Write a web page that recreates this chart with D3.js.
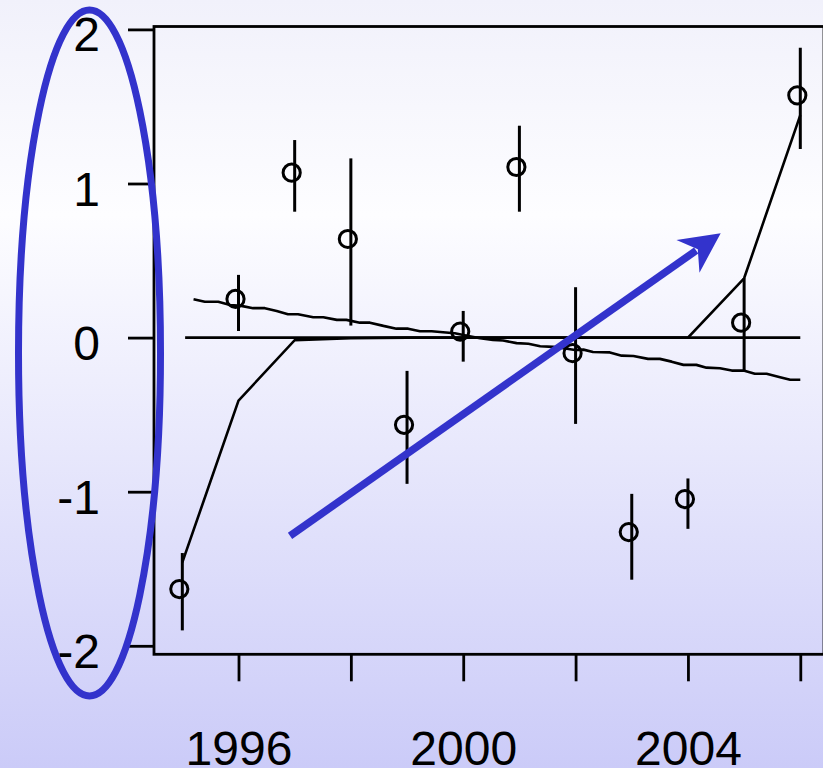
<!DOCTYPE html>
<html>
<head>
<meta charset="utf-8">
<script src="https://cdn.jsdelivr.net/npm/d3@7"></script>
<style>
  html, body { margin: 0; padding: 0; }
  svg { display: block; }
</style>
</head>
<body>
<svg id="chart" width="823" height="768"></svg>
<script>
// Yearly estimates with intervals, a shrunken fit and a slow trend line
const years     = [1995, 1996, 1997, 1998, 1999, 2000, 2001, 2002, 2003, 2004, 2005, 2006];
const estimate  = [-1.632, 0.251, 1.070, 0.640, -0.566, 0.039, 1.107, -0.101, -1.262, -1.048, 0.097, 1.572];
const upper     = [-1.398, 0.407, 1.282, 1.163, -0.216, 0.173, 1.375, 0.327, -1.014, -0.914, 0.385, 1.881];
const lower     = [-1.900, 0.043, 0.817, 0.078, -0.949, -0.156, 0.817, -0.560, -1.571, -1.241, -0.214, 1.224];
const fitted    = [-1.459, -0.409, -0.017, -0.004, 0, 0, 0, 0, 0, 0, 0.385, 1.444];

// slowly declining trend, sampled at fractional years
const trendYears = [1995.20, 1995.40, 1995.64, 1995.85, 1996.05, 1996.26, 1996.47, 1996.68, 1996.88, 1997.06,
                    1997.33, 1997.51, 1997.75, 1997.92, 1998.16, 1998.34, 1998.58, 1998.81, 1999.02, 1999.23,
                    1999.44, 1999.64, 1999.85, 2000.09, 2000.30, 2000.53, 2000.71, 2000.95, 2001.16, 2001.37,
                    2001.60, 2001.79, 2001.99, 2002.14, 2002.31, 2002.61, 2002.82, 2003.03, 2003.29, 2003.50,
                    2003.71, 2003.92, 2004.15, 2004.33, 2004.57, 2004.78, 2004.99, 2005.19, 2005.40, 2005.64,
                    2005.82, 2006.00];
const trendValues = [0.249, 0.233, 0.233, 0.212, 0.206, 0.191, 0.191, 0.173, 0.152, 0.152,
                     0.132, 0.132, 0.115, 0.115, 0.097, 0.097, 0.076, 0.058, 0.058, 0.041,
                     0.041, 0.035, 0.028, 0.011, -0.004, -0.015, -0.019, -0.036, -0.040, -0.056,
                     -0.060, -0.069, -0.080, -0.078, -0.093, -0.096, -0.117, -0.119, -0.138, -0.138,
                     -0.156, -0.177, -0.177, -0.195, -0.199, -0.214, -0.214, -0.235, -0.235, -0.257,
                     -0.274, -0.274];

const zeroLineYears = [1995.05, 2006];

const yTickValues = [-2, -1, 0, 1, 2];
const xTickValues = [1996, 1998, 2000, 2002, 2004, 2006];
const xLabelValues = [1996, 2000, 2004];

// trend arrow, in data units: from (year, value) to (year, value)
const arrowFrom = [1996.917, -1.287];
const arrowTo   = [2004.583, 0.677];

const W = 823, H = 768;
const frame = { left: 154, right: 824, top: 26.5, bottom: 654.3 };
const FONT = '"Liberation Sans", Arial, Helvetica, sans-serif';
const BLUE = "#3333cc";

const svg = d3.select("#chart");

// background wash
const defs = svg.append("defs");
const grad = defs.append("linearGradient")
  .attr("id", "bg").attr("x1", 0).attr("y1", 0).attr("x2", 0).attr("y2", 1);
grad.append("stop").attr("offset", "0%").attr("stop-color", "#f1f1fb");
grad.append("stop").attr("offset", "28%").attr("stop-color", "#fdfdff");
grad.append("stop").attr("offset", "100%").attr("stop-color", "#cbcbf8");
svg.append("rect").attr("width", W).attr("height", H).attr("fill", "url(#bg)");

const x = d3.scaleLinear().domain([1996, 2006]).range([238.5, 800.3]);
const y = d3.scaleLinear().domain([-2, 2]).range([645.8, 29.4]);

// frame
svg.append("rect")
  .attr("x", frame.left).attr("y", frame.top)
  .attr("width", frame.right - frame.left).attr("height", frame.bottom - frame.top)
  .attr("fill", "none").attr("stroke", "#000").attr("stroke-width", 2.8);

// y axis
const yAxis = svg.append("g")
  .attr("transform", `translate(${frame.left},0)`)
  .call(d3.axisLeft(y).tickValues(yTickValues).tickSize(26).tickFormat(d => String(d)));
yAxis.select(".domain").remove();
yAxis.selectAll(".tick line").attr("stroke", "#000").attr("stroke-width", 2.8);
yAxis.selectAll(".tick text")
  .attr("x", -54).attr("dy", 21.5)
  .attr("text-anchor", "end")
  .attr("fill", "#000")
  .style("font-family", FONT).style("font-size", "48px");

// x axis
const xAxis = svg.append("g")
  .attr("transform", `translate(0,${frame.bottom})`)
  .call(d3.axisBottom(x).tickValues(xTickValues).tickSize(27)
    .tickFormat(d => xLabelValues.includes(d) ? String(d) : ""));
xAxis.select(".domain").remove();
xAxis.selectAll(".tick line").attr("stroke", "#000").attr("stroke-width", 2.8);
xAxis.selectAll(".tick text")
  .attr("y", 111.2).attr("dy", 0)
  .attr("fill", "#000")
  .style("font-family", FONT).style("font-size", "48px");

const plot = svg.append("g");

// zero reference line
plot.append("line")
  .attr("x1", x(zeroLineYears[0])).attr("x2", x(zeroLineYears[1]))
  .attr("y1", y(0)).attr("y2", y(0))
  .attr("stroke", "#000").attr("stroke-width", 2.8);

// trend line
const trendData = trendYears.map((t, i) => [t, trendValues[i]]);
plot.append("path")
  .datum(trendData)
  .attr("d", d3.line().x(d => x(d[0])).y(d => y(d[1])))
  .attr("fill", "none").attr("stroke", "#000").attr("stroke-width", 2.6)
  .attr("stroke-linejoin", "round");

// fitted line
const fitData = years.map((t, i) => [t, fitted[i]]);
plot.append("path")
  .datum(fitData)
  .attr("d", d3.line().x(d => x(d[0])).y(d => y(d[1])))
  .attr("fill", "none").attr("stroke", "#000").attr("stroke-width", 2.6);

// error bars
const pts = years.map((t, i) => ({ t, v: estimate[i], lo: lower[i], hi: upper[i] }));
plot.selectAll("line.err").data(pts).join("line")
  .attr("class", "err")
  .attr("x1", d => x(d.t)).attr("x2", d => x(d.t))
  .attr("y1", d => y(d.hi)).attr("y2", d => y(d.lo))
  .attr("stroke", "#000").attr("stroke-width", 3);

// point estimates (open circles, nudged slightly left of their bars)
const nudge = -3;
plot.selectAll("circle.pt").data(pts).join("circle")
  .attr("class", "pt")
  .attr("cx", d => x(d.t) + nudge).attr("cy", d => y(d.v))
  .attr("r", 8.6)
  .attr("fill", "none").attr("stroke", "#000").attr("stroke-width", 3);

// annotations: ring around the y labels and the upward arrow
svg.append("ellipse")
  .attr("cx", 89.5).attr("cy", 353).attr("rx", 71).attr("ry", 343)
  .attr("fill", "none").attr("stroke", BLUE).attr("stroke-width", 7);

const ax0 = x(arrowFrom[0]), ay0 = y(arrowFrom[1]);
const ax1 = x(arrowTo[0]),   ay1 = y(arrowTo[1]);
const len = Math.hypot(ax1 - ax0, ay1 - ay0);
const ux = (ax1 - ax0) / len, uy = (ay1 - ay0) / len;
const nx = -uy, ny = ux;
const headLen = 40, headHalf = 20, notch = 28;
svg.append("line")
  .attr("x1", ax0).attr("y1", ay0)
  .attr("x2", ax1 - ux * (notch + 2)).attr("y2", ay1 - uy * (notch + 2))
  .attr("stroke", BLUE).attr("stroke-width", 7.5);
svg.append("path")
  .attr("d", `M${ax1},${ay1}` +
             `L${ax1 - ux * headLen + nx * headHalf},${ay1 - uy * headLen + ny * headHalf}` +
             `L${ax1 - ux * notch},${ay1 - uy * notch}` +
             `L${ax1 - ux * headLen - nx * headHalf},${ay1 - uy * headLen - ny * headHalf}Z`)
  .attr("fill", BLUE);
</script>
</body>
</html>
